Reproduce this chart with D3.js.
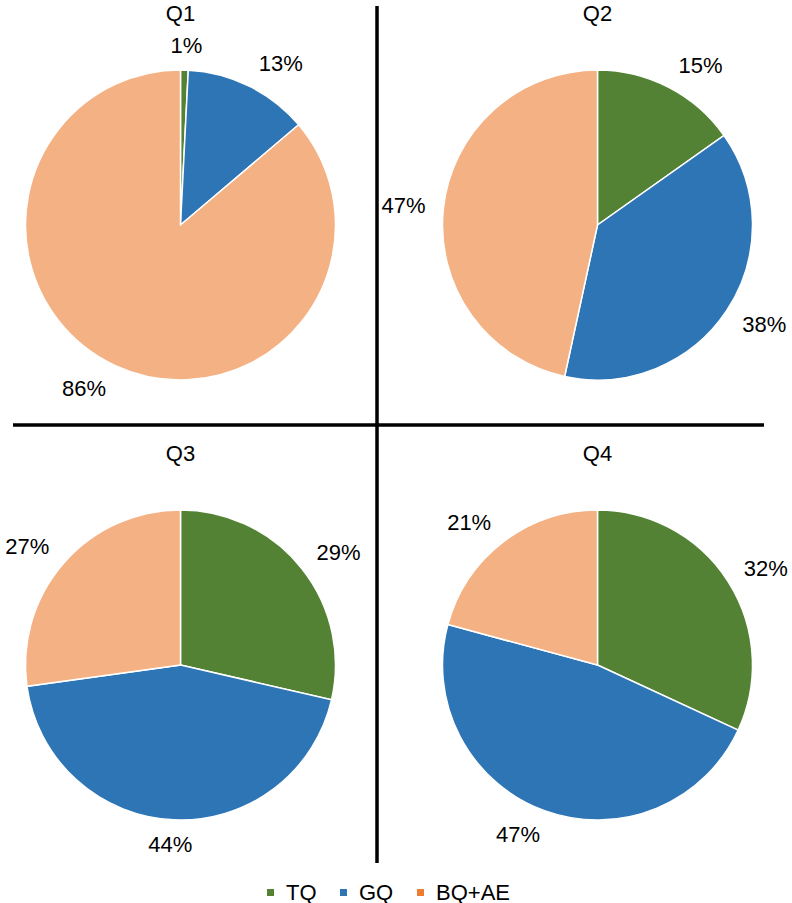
<html>
<head>
<style>
  body { margin: 0; background: #fff; }
  text { font-family: "Liberation Sans", Arial, sans-serif; }
</style>
</head>
<body>
<script src="https://cdn.jsdelivr.net/npm/d3@7/dist/d3.min.js"></script>

<div id="container1"></div>

<script>

// data
const quarters = ["Q1", "Q2", "Q3", "Q4"];
const categories = ["TQ", "GQ", "BQ+AE"];
const tq   = [0.8, 15.2, 28.6, 31.9];
const gq   = [13.0, 38.2, 44.2, 47.3];
const bqae = [86.2, 46.6, 27.2, 20.8];
const labels = [
  ["1%", "13%", "86%"],
  ["15%", "38%", "47%"],
  ["29%", "44%", "27%"],
  ["32%", "47%", "21%"]
];

const pieColor = d3.scaleOrdinal().domain(categories).range(["#548235", "#2e75b6", "#f4b183"]);
const keyColor = d3.scaleOrdinal().domain(categories).range(["#548235", "#2e75b6", "#ed7d31"]);

const width = 792, height = 903;
const radius = 155;

const svg = d3.select("#container1")
  .append("svg")
    .attr("width", width)
    .attr("height", height);

// grid of the four panels
const colX = d3.scalePoint().domain([0, 1]).range([180.5, 597.5]);
const rowY = d3.scalePoint().domain([0, 1]).range([225, 665]);

const pie = d3.pie().sort(null).value(d => d.value);
const arc = d3.arc().innerRadius(0).outerRadius(radius);

quarters.forEach(function(q, i) {
  const cx = colX(i % 2), cy = rowY(Math.floor(i / 2));
  const data = categories.map((c, k) => ({cat: c, value: [tq, gq, bqae][k][i], label: labels[i][k]}));

  const g = svg.append("g").attr("transform", `translate(${cx},${cy})`);

  g.selectAll("path")
    .data(pie(data))
    .join("path")
      .attr("d", arc)
      .style("fill", d => pieColor(d.data.cat))
      .style("stroke", "#fff")
      .style("stroke-width", 1.5);

  // labels outside the end, pushed out by half the text box
  g.selectAll("text.lbl")
    .data(pie(data))
    .join("text")
      .attr("class", "lbl")
      .attr("x", function(d) {
        const a = (d.startAngle + d.endAngle) / 2;
        const s = Math.sin(a);
        return 170 * s + 25 * Math.max(-1, Math.min(1, s * 2.5));
      })
      .attr("y", function(d) {
        const a = (d.startAngle + d.endAngle) / 2;
        const c = Math.cos(a);
        return -170 * c - 10 * c;
      })
      .attr("text-anchor", "middle")
      .attr("dominant-baseline", "central")
      .style("font-size", "22px")
      .style("fill", "#000")
      .text(d => d.data.label);

  svg.append("text")
    .attr("x", cx)
    .attr("y", cy - radius - 57)
    .attr("text-anchor", "middle")
    .attr("dominant-baseline", "central")
    .style("font-size", "22px")
    .text(q);
});

// dividing lines
svg.append("line").attr("x1", 377).attr("x2", 377).attr("y1", 6).attr("y2", 863)
  .style("stroke", "#000").style("stroke-width", 3.5);
svg.append("line").attr("x1", 13).attr("x2", 764).attr("y1", 425).attr("y2", 425)
  .style("stroke", "#000").style("stroke-width", 3.5);

// legend
const legendX = [267, 340, 417];
const legend = svg.append("g");
categories.forEach(function(c, k) {
  legend.append("rect").attr("x", legendX[k]).attr("y", 889).attr("width", 7).attr("height", 7)
    .style("fill", keyColor(c));
  legend.append("text").attr("x", legendX[k] + 19).attr("y", 892)
    .attr("dominant-baseline", "central")
    .style("font-size", "22px")
    .text(c);
});

</script>
</body>
</html>
